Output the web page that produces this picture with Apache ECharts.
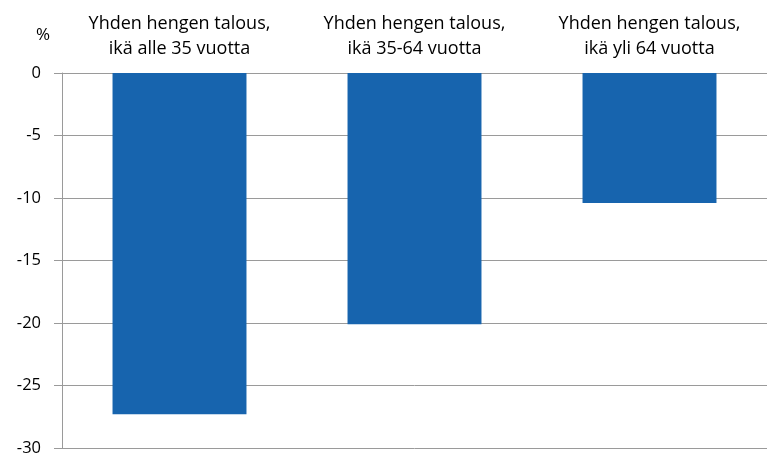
<!DOCTYPE html>
<html><head><meta charset="utf-8">
<script src="https://cdn.jsdelivr.net/npm/echarts@6/dist/echarts.min.js"></script>
<style>html,body{margin:0;padding:0;background:#fff}#c{width:767px;height:462px}</style>
</head><body><div id="c"></div>
<script>
const categories = ["Yhden hengen talous,\nikä alle 35 vuotta", "Yhden hengen talous,\nikä 35-64 vuotta", "Yhden hengen talous,\nikä yli 64 vuotta"];
const values = [-27.3, -20.1, -10.4];
const yTicks = [0, -5, -10, -15, -20, -25, -30];

const chart = echarts.init(document.getElementById('c'));
const font = '"Open Sans", "Noto Sans", sans-serif';
chart.setOption({
  animation: false,
  grid: {left: 62, top: 73, width: 709, height: 375, containLabel: false},
  graphic: [{type: 'text', left: 36, top: 27, style: {text: '%', font: '17px ' + font, fill: '#000'}}],
  xAxis: {
    type: 'category', data: categories, position: 'top',
    axisLine: {lineStyle: {color: '#9a9a9a', width: 1}},
    axisTick: {inside: true, length: 6, lineStyle: {color: '#9a9a9a'}},
    axisLabel: {color: '#000', fontSize: 18, fontFamily: font, lineHeight: 25, margin: 12, interval: 0}
  },
  yAxis: {
    type: 'value', min: -30, max: 0, interval: 5,
    axisLine: {show: true, lineStyle: {color: '#9a9a9a'}},
    axisTick: {show: true, length: 8, lineStyle: {color: '#9a9a9a'}},
    splitLine: {lineStyle: {color: '#9a9a9a'}},
    axisLabel: {color: '#000', fontSize: 16.5, fontFamily: font, margin: 21,
      formatter: v => yTicks.includes(v) ? (v === 0 ? '0' : '-' + Math.abs(v)) : ''}
  },
  series: [{type: 'bar', data: values, barWidth: '57%', itemStyle: {color: '#1764ae'}}]
});
</script></body></html>
